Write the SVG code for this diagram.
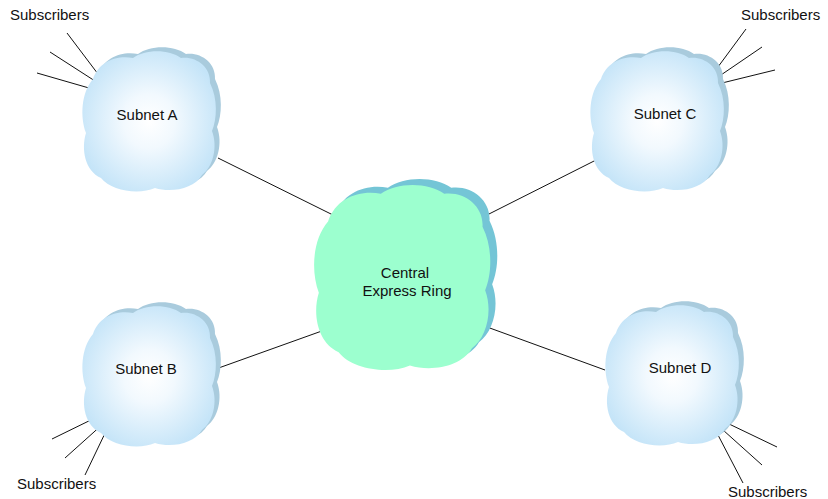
<svg xmlns="http://www.w3.org/2000/svg" width="828" height="499" viewBox="0 0 828 499">
<defs>
<radialGradient id="gSub" cx="0.5" cy="0.5" r="0.55">
<stop offset="0" stop-color="#ffffff"/>
<stop offset="0.35" stop-color="#f2f9fe"/>
<stop offset="1" stop-color="#c4e4f8"/>
</radialGradient>
<path id="cloud" d="M -56,-42 C -50,-60 -32,-66 -16,-63 C -4,-72 20,-72 32,-63 C 47,-65 62,-54 61,-38 C 69,-22 68,-2 63,10 C 69,26 64,46 53,54 C 45,68 22,72 6,67 C -10,74 -38,70 -48,57 C -64,50 -68,28 -63,12 C -69,-4 -68,-28 -56,-42 Z"/>
</defs>
<style>
.t{font-family:"Liberation Sans",Arial,sans-serif;font-size:15px;fill:#111}
.c{text-anchor:middle}
.ln{stroke:#111;stroke-width:1;fill:none}
.shs{fill:#a9cbdd}
.sub{fill:url(#gSub)}
.shc{fill:#74c5d6}
.cen{fill:#9cffcf}
</style>
<rect width="828" height="499" fill="#ffffff"/>
<g id="connectors">
<line class="ln" x1="218" y1="158" x2="333" y2="215"/>
<line class="ln" x1="487" y1="215" x2="602" y2="157"/>
<line class="ln" x1="213" y1="370" x2="333" y2="327"/>
<line class="ln" x1="487" y1="327" x2="605" y2="370"/>
<line class="ln" x1="67" y1="33" x2="98" y2="74"/>
<line class="ln" x1="50" y1="52" x2="95" y2="81"/>
<line class="ln" x1="37" y1="73" x2="89" y2="88"/>
<line class="ln" x1="746" y1="29" x2="715" y2="71"/>
<line class="ln" x1="762" y1="47" x2="718" y2="77"/>
<line class="ln" x1="775" y1="70" x2="722" y2="83"/>
<line class="ln" x1="52" y1="439" x2="99" y2="416"/>
<line class="ln" x1="65" y1="458" x2="104" y2="423"/>
<line class="ln" x1="85" y1="475" x2="108" y2="427"/>
<line class="ln" x1="777" y1="447" x2="727" y2="423"/>
<line class="ln" x1="762" y1="465" x2="723" y2="430"/>
<line class="ln" x1="743" y1="483" x2="718" y2="435"/>
</g>
<g id="subnetA">
<use href="#cloud" class="shs" transform="translate(154,117)"/>
<use href="#cloud" class="sub" transform="translate(149,121)"/>
<text class="t c" x="147" y="120">Subnet A</text>
</g>
<g id="subnetC">
<use href="#cloud" class="shs" transform="translate(662,117)"/>
<use href="#cloud" class="sub" transform="translate(657,121)"/>
<text class="t c" x="665" y="119">Subnet C</text>
</g>
<g id="subnetB">
<use href="#cloud" class="shs" transform="translate(154,372)"/>
<use href="#cloud" class="sub" transform="translate(149,376)"/>
<text class="t c" x="146" y="374">Subnet B</text>
</g>
<g id="subnetD">
<use href="#cloud" class="shs" transform="translate(677,371)"/>
<use href="#cloud" class="sub" transform="translate(672,375)"/>
<text class="t c" x="680" y="373">Subnet D</text>
</g>
<g id="central">
<use href="#cloud" class="shc" transform="translate(409,271) scale(1.32)"/>
<use href="#cloud" class="cen" transform="translate(402,277) scale(1.32)"/>
<text class="t c" x="405" y="278">Central</text>
<text class="t c" x="407" y="296">Express Ring</text>
</g>
<g id="labels">
<text class="t" x="10" y="20">Subscribers</text>
<text class="t" x="741" y="20">Subscribers</text>
<text class="t" x="17" y="489">Subscribers</text>
<text class="t" x="728" y="497">Subscribers</text>
</g>
</svg>
